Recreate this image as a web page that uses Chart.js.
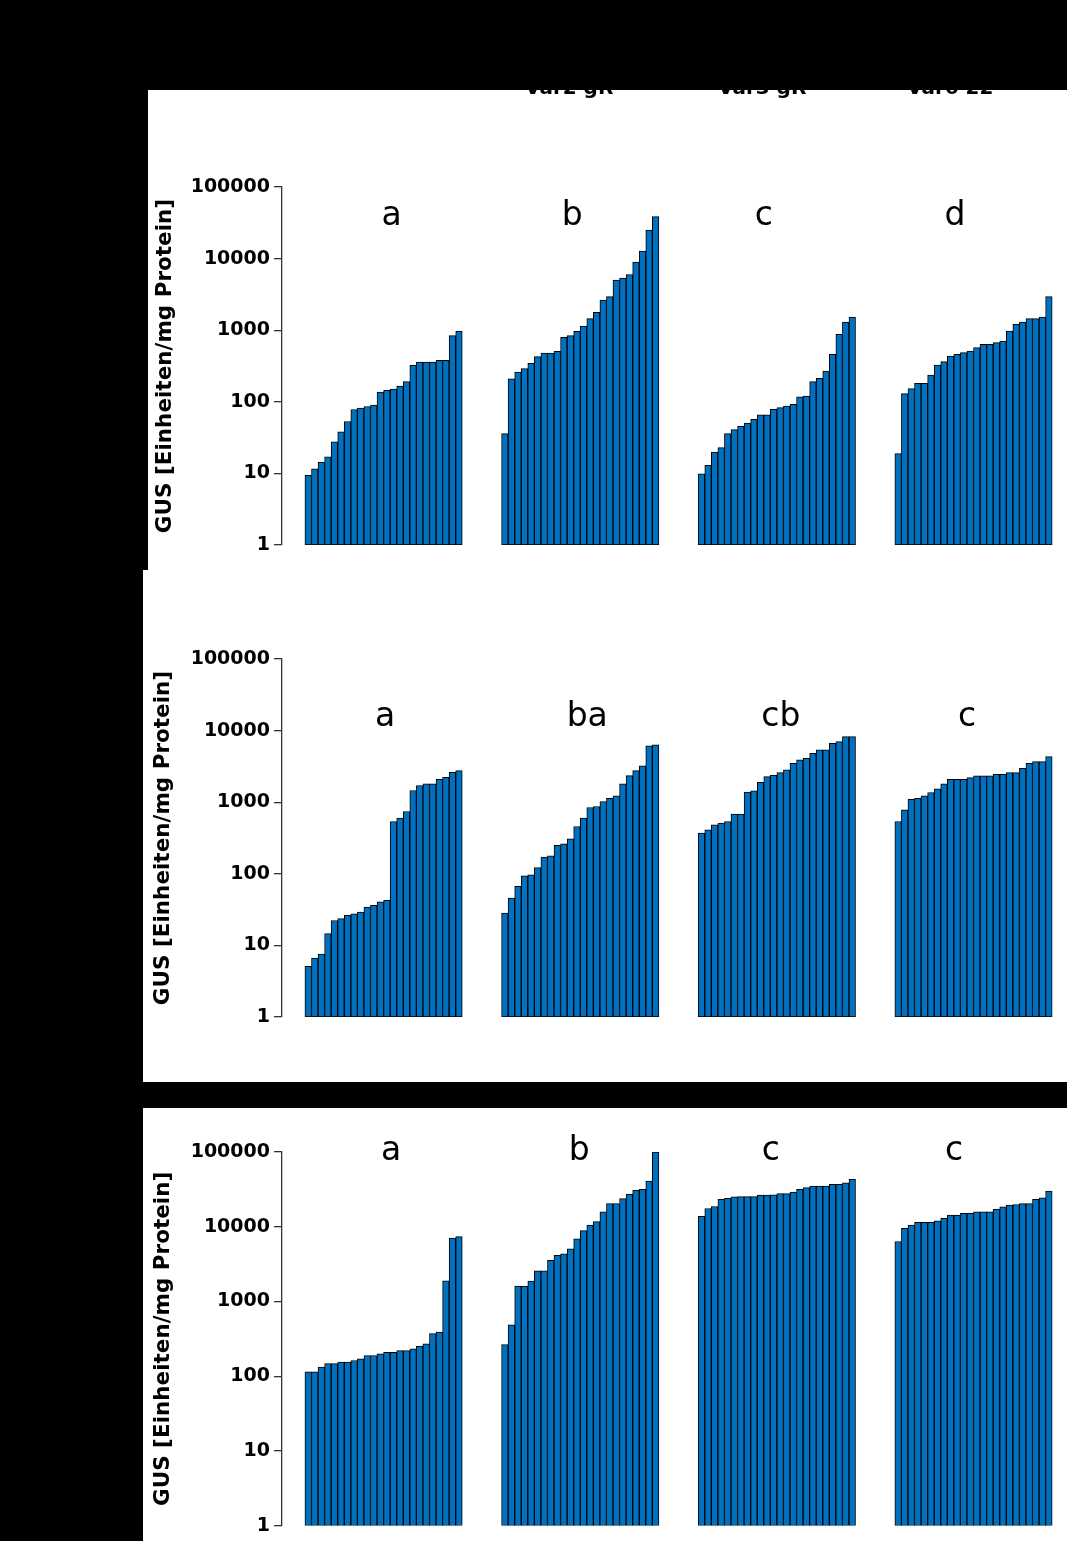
<!DOCTYPE html>
<html>
<head>
<meta charset="utf-8">
<script src="https://cdn.jsdelivr.net/npm/chart.js@4.4.0/dist/chart.umd.min.js"></script>
<style>
  body { margin: 0; background: #000; width: 1067px; height: 1541px; position: relative; overflow: hidden; }
  .panel { position: absolute; background: #fff; }
  .panel canvas { position: absolute; left: 0; top: 0; }
  .head { position: absolute; top: 77px; font: bold 20px "DejaVu Sans"; color: #000; line-height: 20px; white-space: nowrap; z-index: 1; }
  .cover { position: absolute; left: 0; top: 0; width: 1067px; height: 90px; background: #000; z-index: 2; }
</style>
</head>
<body>
<div class="cover"></div>
<div class="head" style="left:525px">Var2 gR</div>
<div class="head" style="left:718px">Var3 gR</div>
<div class="head" style="left:907px">Var6 22</div>

<div class="panel" style="left:148px; top:90px; width:919px; height:480px">
  <canvas id="c1" width="919" height="480"></canvas>
</div>
<div class="panel" style="left:143px; top:570px; width:924px; height:512px">
  <canvas id="c2" width="924" height="512"></canvas>
</div>
<div class="panel" style="left:143px; top:1108px; width:924px; height:433px">
  <canvas id="c3" width="924" height="433"></canvas>
</div>

<script>
// values, each group sorted low -> high (24 lines per group)
const p1a = [9.4, 11.6, 14.4, 17, 27.5, 38, 53, 78, 82, 86, 90, 137, 145, 151, 166, 191, 323, 360, 360, 360, 379, 379, 839, 965];
const p1b = [36, 210, 261, 290, 345, 427, 480, 480, 507, 795, 839, 965, 1145, 1450, 1777, 2643, 2940, 5020, 5360, 5970, 8970, 12770, 25100, 38500];
const p1c = [9.9, 13, 19.9, 22.9, 36, 40.8, 45.4, 50.6, 56.9, 66, 66, 78.5, 82.8, 87, 92, 117, 120, 191, 213, 269, 460, 875, 1302, 1528];
const p1d = [18.9, 130, 153, 181, 181, 237, 326, 364, 436, 460, 486, 512, 570, 635, 635, 670, 707, 975, 1208, 1302, 1450, 1450, 1528, 2940];

const p2a = [5.1, 6.66, 7.57, 14.6, 22.3, 23.6, 26.2, 27.7, 29.2, 34.3, 36.2, 40.7, 42.5, 537, 598, 741, 1455, 1710, 1803, 1803, 2094, 2234, 2622, 2767];
const p2b = [28.3, 45.8, 66.6, 93.8, 96.8, 122, 171, 178, 249, 262, 308, 458, 598, 843, 871, 1022, 1137, 1225, 1803, 2355, 2767, 3215, 6110, 6310];
const p2c = [369, 411, 483, 509, 537, 681, 681, 1380, 1440, 1900, 2280, 2380, 2590, 2826, 3500, 3900, 4110, 4830, 5370, 5370, 6650, 7030, 8250, 8250];
const p2d = [537, 782, 1100, 1137, 1225, 1365, 1535, 1803, 2094, 2094, 2094, 2208, 2330, 2330, 2330, 2458, 2458, 2594, 2594, 2980, 3500, 3690, 3690, 4340];

const p3a = [114, 114, 132, 147, 147, 154, 154, 162, 171, 189, 189, 199, 209, 209, 220, 220, 232, 252, 270, 370, 390, 1888, 7020, 7380];
const p3b = [265, 488, 1603, 1603, 1868, 2563, 2563, 3550, 4130, 4350, 5070, 6870, 8860, 10540, 11680, 15850, 20420, 20420, 23810, 27180, 30690, 31620, 40830, 100000];
const p3c = [13740, 17540, 18640, 23330, 24060, 25060, 25300, 25300, 25300, 26600, 26600, 26800, 27730, 27730, 29170, 31650, 33330, 35060, 35060, 35060, 36900, 36900, 38820, 42960];
const p3d = [6340, 9520, 10540, 11430, 11430, 11430, 12030, 12920, 14310, 14310, 15050, 15050, 15850, 15850, 15850, 17180, 18460, 19420, 19820, 20420, 20420, 23330, 24300, 30080];

const letters1 = ['a', 'b', 'c', 'd'];
const letters2 = ['a', 'ba', 'cb', 'c'];
const letters3 = ['a', 'b', 'c', 'c'];

const yTicks = [1, 10, 100, 1000, 10000, 100000];
const yTitle = 'GUS [Einheiten/mg Protein]';

// slot layout on the category axis: empty slots before and between the groups
const N = 24, LEAD = 4, GAP = 6, SLOTS = 120;

function buildSeries(groups) {
    const data = new Array(SLOTS).fill(null);
    groups.forEach((vals, g) => {
        vals.forEach((v, i) => { data[LEAD + g * (N + GAP) + i] = v; });
    });
    return data;
}

const slotLabels = [];
for (let i = 0; i < SLOTS; i++) slotLabels.push('');

const groupLetters = {
    id: 'groupLetters',
    afterDatasetsDraw(chart, args, opts) {
        const {ctx, chartArea, scales: {x}} = chart;
        ctx.save();
        ctx.font = '33px "DejaVu Sans"';
        ctx.fillStyle = '#000';
        ctx.textAlign = 'center';
        ctx.textBaseline = 'alphabetic';
        opts.letters.forEach((t, g) => {
            const start = LEAD + g * (N + GAP);
            const cx = (x.getPixelForValue(start) + x.getPixelForValue(start + N - 1)) / 2;
            ctx.fillText(t, cx + opts.dx[g], chartArea.top + opts.dy);
        });
        ctx.restore();
    }
};

function makeChart(id, groups, letters, lay) {
    return new Chart(document.getElementById(id).getContext('2d'), {
        type: 'bar',
        data: {
            labels: slotLabels,
            datasets: [{
                data: buildSeries(groups),
                backgroundColor: '#0070C0',
                borderColor: '#000',
                borderWidth: 1,
                borderSkipped: false,
                barPercentage: 1,
                categoryPercentage: 1
            }]
        },
        options: {
            responsive: false,
            animation: false,
            layout: { padding: { top: lay.top, bottom: lay.bottom, left: 0, right: 5 } },
            plugins: {
                legend: { display: false },
                tooltip: { enabled: false },
                groupLetters: { letters: letters, dx: lay.dx, dy: lay.dy }
            },
            scales: {
                x: { type: 'category', offset: false, display: false },
                y: {
                    type: 'logarithmic',
                    min: 1,
                    max: 100000,
                    afterBuildTicks: (axis) => { axis.ticks = yTicks.map(v => ({ value: v })); },
                    afterFit: (axis) => { axis.width = lay.axisW; },
                    ticks: {
                        callback: (v) => String(v),
                        color: '#000',
                        padding: 4,
                        font: { family: 'DejaVu Sans', size: 19, weight: 'bold' }
                    },
                    grid: { drawOnChartArea: false, tickLength: 8, color: '#333', lineWidth: 1.3 },
                    border: { color: '#333', width: 1.3 },
                    title: {
                        display: true,
                        text: yTitle,
                        color: '#000',
                        padding: { top: lay.titlePad, bottom: 0 },
                        font: { family: 'DejaVu Sans', size: 21.5, weight: 'bold' }
                    }
                }
            }
        },
        plugins: [groupLetters]
    });
}

Chart.defaults.font.family = 'DejaVu Sans';

makeChart('c1', [p1a, p1b, p1c, p1d], letters1,
    { top: 97, bottom: 25, axisW: 134, titlePad: 5, dx: [8, -8, -13, -18.5], dy: 38 });
makeChart('c2', [p2a, p2b, p2c, p2d], letters2,
    { top: 89, bottom: 65, axisW: 139, titlePad: 8, dx: [1.5, 7, 4, -6.5], dy: 67 });
makeChart('c3', [p3a, p3b, p3c, p3d], letters3,
    { top: 44, bottom: 12, axisW: 139, titlePad: 8, dx: [7.5, -1, -6, -19.5], dy: 8 });
</script>
</body>
</html>
